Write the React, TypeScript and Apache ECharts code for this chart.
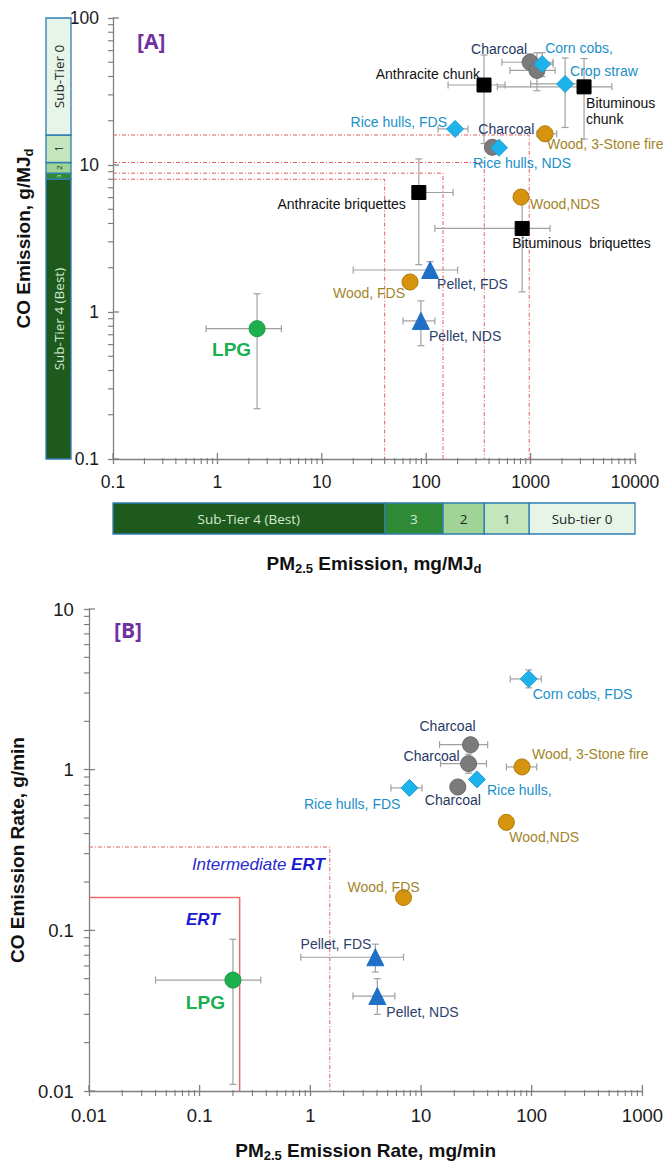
import React, { useEffect, useRef } from "react";
import * as echarts from "echarts";

// ---------------- Panel A: emission factors (mg/MJd, g/MJd) ----------------
const namesA = ["Anthracite chunk", "Bituminous chunk", "Anthracite briquettes", "Bituminous briquettes", "Charcoal 1", "Charcoal 2", "Charcoal 3", "Corn cobs", "Crop straw", "Rice hulls, FDS", "Rice hulls, NDS", "Wood, 3-Stone fire", "Wood, NDS", "Wood, FDS", "Pellet, FDS", "Pellet, NDS", "LPG"];
const labelsA = ["Anthracite chunk", "Bituminous\nchunk", "Anthracite briquettes", "Bituminous  briquettes", "Charcoal", "", "Charcoal", "Corn cobs,", "Crop straw", "Rice hulls, FDS", "Rice hulls, NDS", "Wood, 3-Stone fire", "Wood,NDS", "Wood, FDS", "Pellet, FDS", "Pellet, NDS", "LPG"];
const fuelA = ["coal", "coal", "coal", "coal", "charcoal", "charcoal", "charcoal", "crop", "crop", "crop", "crop", "wood", "wood", "wood", "pellet", "pellet", "lpg"];
const pmA = [358, 3250, 85, 830, 990, 1150, 430, 1290, 2140, 189, 498, 1375, 810, 70, 109, 89, 2.4];
const coA = [35, 34, 6.5, 3.7, 50, 44, 13.2, 48.6, 35.6, 17.6, 13.1, 16.3, 6.05, 1.6, 1.93, 0.87, 0.77];
const pmLoA = [162, 480, 80, 121, 532, 635, null, 1000, 1000, 130, null, 1150, null, null, 20, 60, 0.78];
const pmHiA = [569, 6000, 181, 1535, 1640, 1714, null, 1640, 3500, 251, null, 1780, null, null, 200, 121, 4.1];
const coLoA = [14, 15, 2.1, 1.37, 44, 32, null, 40, 18, null, null, null, null, null, 1.7, 0.59, 0.22];
const coHiA = [56, 53, 11, 6, 57, 58, null, 58, 53.5, null, null, null, null, null, 2.2, 1.19, 1.33];

// IWA sub-tier thresholds
const pmTiers = [40, 145, 360, 970];
const coTiers = [8, 8.8, 10.4, 16];
const tierNamesX = ["Sub-Tier 4 (Best)", "3", "2", "1", "Sub-tier 0"];
const tierNamesY = ["Sub-Tier 4 (Best)", "3", "2", "1", "Sub-Tier 0"];
const pmTierEdges = [0.1, 40, 145, 360, 970, 10000];
const coTierEdges = [0.1, 8, 8.8, 10.4, 16, 100];

// ---------------- Panel B: emission rates (mg/min, g/min) ----------------
const namesB = ["Corn cobs, FDS", "Charcoal 1", "Charcoal 2", "Charcoal 3", "Rice hulls, NDS", "Rice hulls, FDS", "Wood, 3-Stone fire", "Wood, NDS", "Wood, FDS", "Pellet, FDS", "Pellet, NDS", "LPG"];
const labelsB = ["Corn cobs, FDS", "Charcoal", "Charcoal", "Charcoal", "Rice hulls,", "Rice hulls, FDS", "Wood, 3-Stone fire", "Wood,NDS", "Wood, FDS", "Pellet, FDS", "Pellet, NDS", "LPG"];
const fuelB = ["crop", "charcoal", "charcoal", "charcoal", "crop", "crop", "wood", "wood", "wood", "pellet", "pellet", "lpg"];
const pmB = [94, 28, 26.9, 21.5, 32, 7.85, 81.7, 59, 6.95, 3.87, 4.03, 0.2];
const coB = [3.67, 1.43, 1.09, 0.78, 0.87, 0.77, 1.04, 0.47, 0.16, 0.068, 0.039, 0.049];
const pmLoB = [64, 14.7, 15, null, null, 5.35, 59, null, null, 0.82, 2.43, 0.04];
const pmHiB = [122, 40, 39, null, null, 10.2, 111, null, null, 6.95, 5.8, 0.357];
const coLoB = [3.23, null, 0.95, null, null, null, null, null, null, 0.055, 0.03, 0.011];
const coHiB = [4.18, null, 1.25, null, null, null, null, null, null, 0.082, 0.05, 0.088];

// ERT thresholds
const ertPm = [0.23, 1.5];
const ertCo = [0.16, 0.33];

const xTicksA = [0.1, 1, 10, 100, 1000, 10000];
const yTicksA = [0.1, 1, 10, 100];
const xTicksB = [0.01, 0.1, 1, 10, 100, 1000];
const yTicksB = [0.01, 0.1, 1, 10];

// ---------------- layout / style (not data) ----------------
const FONT = 'Arial, "Liberation Sans", sans-serif';
const labelLayoutA: any[] = [[-4, -11, "right"], [2, 24, "left"], [-13, 11, "right"], [-10, 15, "left"], [-3, -13, "right"], null, [-14, -18, "left"], [3, -16, "left"], [5, -13, "left"], [-8, -7, "right"], [-26, 15, "left"], [2, 10, "left"], [9, 7, "left"], [-5, 11, "right"], [7, 14, "left"], [8, 15, "left"], [-6, 21, "right"]];
const labelLayoutB: any[] = [[4, 15, "left"], [-23, -19, "center"], [-9, -8, "right"], [-33, 13, "left"], [10, 11, "left"], [-9, 16, "right"], [10, -13, "left"], [3, 15, "left"], [-20, -11, "center"], [-4, -13, "right"], [9, 16, "left"], [-8, 22, "right"]];

const styles: any = {
  coal: { symbol: "rect", size: 14, color: "#000000", border: "#000000", label: "#111111" },
  charcoal: { symbol: "circle", size: 16, color: "#7b7b7d", border: "#6a6a6a", label: "#1f3864" },
  crop: { symbol: "diamond", size: 17, color: "#1eb2ea", border: "#1a9fd6", label: "#1a8fc9" },
  wood: { symbol: "circle", size: 16, color: "#d6930e", border: "#b07a0c", label: "#a3852a" },
  pellet: { symbol: "triangle", size: 17, color: "#1f6fc7", border: "#1f6fc7", label: "#2c416b" },
  lpg: { symbol: "circle", size: 16, color: "#1eb04e", border: "#179a42", label: "#19b04f" },
};
const tierFill = ["#1e5a1e", "#2e8a34", "#9fd496", "#c4e6bd", "#e6f5e8"];
const tierText = ["#d2ead0", "#d2ead0", "#222", "#222", "#222"];
const AXIS = "#808080";

function fmt(v: number) {
  return String(parseFloat(Number(v).toPrecision(4)));
}

function minorValues(min: number, max: number) {
  const out: number[] = [];
  for (let d = min; d < max * 0.999; d *= 10) for (let k = 2; k <= 9; k++) out.push(parseFloat((d * k).toPrecision(3)));
  return out;
}

function logAxis(gridIndex: number, min: number, max: number, isX: boolean, labelFont: number, labelMargin: number, ticks: number[], name: string, nameGap: number) {
  return {
    type: "log",
    logBase: 10,
    gridIndex,
    min,
    max,
    position: isX ? "bottom" : "left",
    splitLine: { show: false },
    axisLine: { show: true, lineStyle: { color: AXIS, width: 1.3 } },
    axisTick: { show: true, length: 5, customValues: ticks, lineStyle: { color: AXIS, width: 1.3 } },
    axisLabel: { show: true, customValues: ticks, margin: labelMargin, color: "#1a1a1a", fontSize: labelFont, fontFamily: FONT, formatter: (v: number) => fmt(v) },
    name,
    nameLocation: "middle",
    nameGap,
    nameRotate: isX ? 0 : 90,
    nameTextStyle: {
      rich: {
        b: { fontSize: 19, fontWeight: "bold", fontFamily: FONT, color: "#111", lineHeight: 24 },
        s: { fontSize: 13, fontWeight: "bold", fontFamily: FONT, color: "#111", lineHeight: 13, verticalAlign: "bottom" },
      },
    },
  };
}

function scatterSeries(names: string[], labels: string[], fuels: string[], xs: number[], ys: number[], layout: any[], xi: number, yi: number, fontSize: number) {
  const order = ["coal", "charcoal", "crop", "wood", "pellet", "lpg"];
  return order
    .map((f) => {
      const st = styles[f];
      const data: any[] = [];
      fuels.forEach((fu, i) => {
        if (fu !== f) return;
        const lay = layout[i];
        data.push({
          name: names[i],
          value: [xs[i], ys[i]],
          label: lay
            ? {
                show: true,
                formatter: labels[i],
                position: "inside",
                offset: [lay[0], lay[1]],
                align: lay[2],
                verticalAlign: "middle",
                color: st.label,
                fontSize: f === "lpg" ? 19 : fontSize,
                fontWeight: f === "lpg" ? "bold" : "normal",
                fontFamily: FONT,
                lineHeight: 16,
                textBorderWidth: 0,
              }
            : { show: false },
        });
      });
      return {
        type: "scatter",
        name: f,
        xAxisIndex: xi,
        yAxisIndex: yi,
        symbol: st.symbol,
        symbolSize: st.size,
        itemStyle: { color: st.color, borderColor: st.border, borderWidth: 1, opacity: 1 },
        emphasis: { disabled: true },
        data,
        z: 5,
      };
    })
    .filter((s) => s.data.length);
}

function errorSeries(xs: number[], ys: number[], xl: any[], xh: any[], yl: any[], yh: any[], xi: number, yi: number) {
  const data = xs.map((x, i) => [x, ys[i], xl[i] ?? NaN, xh[i] ?? NaN, yl[i] ?? NaN, yh[i] ?? NaN]);
  return {
    type: "custom",
    xAxisIndex: xi,
    yAxisIndex: yi,
    z: 3,
    encode: { x: 0, y: 1 },
    data,
    renderItem: (params: any, api: any) => {
      const x = api.value(0), y = api.value(1);
      const a = api.value(2), b = api.value(3), c = api.value(4), d = api.value(5);
      const children: any[] = [];
      const st = { stroke: "#a0a0a0", lineWidth: 1.2 };
      const cap = 3.5;
      if (isFinite(a) && isFinite(b) && a > 0 && b > 0) {
        const p1 = api.coord([a, y]), p2 = api.coord([b, y]);
        children.push({ type: "line", shape: { x1: p1[0], y1: p1[1], x2: p2[0], y2: p2[1] }, style: st });
        children.push({ type: "line", shape: { x1: p1[0], y1: p1[1] - cap, x2: p1[0], y2: p1[1] + cap }, style: st });
        children.push({ type: "line", shape: { x1: p2[0], y1: p2[1] - cap, x2: p2[0], y2: p2[1] + cap }, style: st });
      }
      if (isFinite(c) && isFinite(d) && c > 0 && d > 0) {
        const p1 = api.coord([x, c]), p2 = api.coord([x, d]);
        children.push({ type: "line", shape: { x1: p1[0], y1: p1[1], x2: p2[0], y2: p2[1] }, style: st });
        children.push({ type: "line", shape: { x1: p1[0] - cap, y1: p1[1], x2: p1[0] + cap, y2: p1[1] }, style: st });
        children.push({ type: "line", shape: { x1: p2[0] - cap, y1: p2[1], x2: p2[0] + cap, y2: p2[1] }, style: st });
      }
      return { type: "group", children };
    },
  };
}

// minor ticks + inner half of major ticks, placed through the axis scales
function tickDetailSeries(xi: number, yi: number, xmin: number, xmax: number, ymin: number, ymax: number, xMajor: number[], yMajor: number[]) {
  const xMinor = minorValues(xmin, xmax);
  const yMinor = minorValues(ymin, ymax);
  return {
    type: "custom",
    xAxisIndex: xi,
    yAxisIndex: yi,
    z: 4,
    silent: true,
    encode: { x: 0, y: 1 },
    data: [[xmin, ymin]],
    renderItem: (params: any, api: any) => {
      const children: any[] = [];
      const stMinor = { stroke: "#7a7a7a", lineWidth: 1.1 };
      const stMajor = { stroke: AXIS, lineWidth: 1.3 };
      xMinor.forEach((v) => {
        const p = api.coord([v, ymin]);
        children.push({ type: "line", shape: { x1: p[0], y1: p[1] - 1, x2: p[0], y2: p[1] + 5 }, style: stMinor });
      });
      xMajor.forEach((v) => {
        const p = api.coord([v, ymin]);
        children.push({ type: "line", shape: { x1: p[0], y1: p[1] - 6, x2: p[0], y2: p[1] }, style: stMajor });
      });
      yMinor.forEach((v) => {
        const p = api.coord([xmin, v]);
        children.push({ type: "line", shape: { x1: p[0] - 5, y1: p[1], x2: p[0] + 1, y2: p[1] }, style: stMinor });
      });
      yMajor.forEach((v) => {
        const p = api.coord([xmin, v]);
        children.push({ type: "line", shape: { x1: p[0], y1: p[1], x2: p[0] + 6, y2: p[1] }, style: stMajor });
      });
      return { type: "group", children };
    },
  };
}

export default function App() {
  const ref = useRef<HTMLDivElement>(null);
  useEffect(() => {
    if (!ref.current) return;
    const chart = echarts.init(ref.current, null, { renderer: "svg" });

    const hiddenValue = (gridIndex: number, pos: string) => ({ type: "value", gridIndex, min: 0, max: 1, position: pos, show: false });
    const hiddenLog = (gridIndex: number, min: number, max: number, pos: string) => ({ type: "log", logBase: 10, gridIndex, min, max, position: pos, show: false });

    const xAxis = [
      logAxis(0, 0.1, 10000, true, 17.5, 14, xTicksA, "{b|PM}{s|2.5}{b| Emission, mg/MJ}{s|d}", 92),
      hiddenValue(1, "bottom"),
      hiddenLog(2, 0.1, 10000, "bottom"),
      logAxis(3, 0.01, 1000, true, 18.5, 15, xTicksB, "{b|PM}{s|2.5}{b| Emission Rate, mg/min}", 47),
    ];
    const yAxis = [
      logAxis(0, 0.1, 100, false, 17.5, 14, yTicksA, "{b|CO Emission, g/MJ}{s|d}", 78),
      hiddenLog(1, 0.1, 100, "left"),
      hiddenValue(2, "left"),
      logAxis(3, 0.01, 10, false, 18.5, 15, yTicksB, "{b|CO Emission Rate, g/min}", 48),
    ];

    const tierYData = tierNamesY.map((_, i) => [coTierEdges[i], coTierEdges[i + 1]]);
    const tierXData = tierNamesX.map((_, i) => [pmTierEdges[i], pmTierEdges[i + 1]]);

    const option: any = {
      animation: false,
      backgroundColor: "#ffffff",
      grid: [
        { left: 113, top: 18, width: 522, height: 441 },
        { left: 46, top: 18, width: 25, height: 441 },
        { left: 113, top: 503, width: 522, height: 31 },
        { left: 77, top: 609, width: 568, height: 482 },
      ],
      xAxis,
      yAxis,
      graphic: [
        { type: "text", left: 137, top: 30, style: { text: "[A]", fill: "#7030a0", font: 'bold 21px "Open Sans", Arial, sans-serif' } },
        { type: "text", left: 114, top: 619, style: { text: "[B]", fill: "#7030a0", font: 'bold 21px "Open Sans", Arial, sans-serif' } },
      ],
      series: [
        // sub-tier bar along the CO axis
        {
          type: "custom",
          xAxisIndex: 1,
          yAxisIndex: 1,
          encode: { x: 0, y: 1 },
          data: tierYData,
          renderItem: (params: any, api: any) => {
            const lo = api.value(0), hi = api.value(1);
            const a = api.coord([0, hi]), b = api.coord([1, lo]);
            const i = params.dataIndex;
            const h = b[1] - a[1];
            const fs = h > 60 ? 13.5 : h > 20 ? 10 : h > 8 ? 8 : 6;
            return {
              type: "group",
              children: [
                { type: "rect", shape: { x: a[0], y: a[1], width: b[0] - a[0], height: h }, style: { fill: tierFill[i], stroke: "#2f7db3", lineWidth: 1.3 } },
                { type: "text", x: (a[0] + b[0]) / 2, y: (a[1] + b[1]) / 2, rotation: Math.PI / 2, style: { text: tierNamesY[i], align: "center", verticalAlign: "middle", fill: tierText[i], font: `${fs}px "Open Sans", "Noto Sans", sans-serif` } },
              ],
            };
          },
        },
        // sub-tier bar along the PM axis
        {
          type: "custom",
          xAxisIndex: 2,
          yAxisIndex: 2,
          encode: { x: 0, y: 1 },
          data: tierXData,
          renderItem: (params: any, api: any) => {
            const lo = api.value(0), hi = api.value(1);
            const a = api.coord([lo, 1]), b = api.coord([hi, 0]);
            const i = params.dataIndex;
            return {
              type: "group",
              children: [
                { type: "rect", shape: { x: a[0], y: a[1], width: b[0] - a[0], height: b[1] - a[1] }, style: { fill: tierFill[i], stroke: "#2f7db3", lineWidth: 1.3 } },
                { type: "text", x: (a[0] + b[0]) / 2, y: (a[1] + b[1]) / 2, style: { text: tierNamesX[i], align: "center", verticalAlign: "middle", fill: tierText[i], font: `13.5px "Open Sans", "Noto Sans", sans-serif` } },
              ],
            };
          },
        },
        // tier threshold lines in A
        {
          type: "custom",
          xAxisIndex: 0,
          yAxisIndex: 0,
          encode: { x: 0, y: 1 },
          z: 1,
          data: pmTiers.map((p, i) => [p, coTiers[i]]),
          renderItem: (params: any, api: any) => {
            const x = api.value(0), y = api.value(1);
            const p0 = api.coord([0.1, y]), p1 = api.coord([x, y]), p2 = api.coord([x, 0.1]);
            return { type: "polyline", shape: { points: [p0, p1, p2] }, style: { stroke: "#e0605e", lineWidth: 1, lineDash: [4, 2, 1, 2], fill: null } };
          },
        },
        tickDetailSeries(0, 0, 0.1, 10000, 0.1, 100, xTicksA, yTicksA),
        errorSeries(pmA, coA, pmLoA, pmHiA, coLoA, coHiA, 0, 0),
        ...scatterSeries(namesA, labelsA, fuelA, pmA, coA, labelLayoutA, 0, 0, 14),
        // ERT boxes in B
        {
          type: "custom",
          xAxisIndex: 3,
          yAxisIndex: 3,
          encode: { x: 0, y: 1 },
          z: 1,
          data: ertPm.map((p, i) => [p, ertCo[i]]),
          renderItem: (params: any, api: any) => {
            const x = api.value(0), y = api.value(1);
            const p0 = api.coord([0.01, y]), p1 = api.coord([x, y]), p2 = api.coord([x, 0.01]);
            const inter = params.dataIndex === 1;
            return {
              type: "group",
              children: [
                { type: "polyline", shape: { points: [p0, p1, p2] }, style: { stroke: inter ? "#e0605e" : "#ee6a6a", lineWidth: inter ? 1 : 1.5, lineDash: inter ? [4, 2, 1, 2] : null, fill: null } },
                {
                  type: "text",
                  x: p1[0] - (inter ? 5 : 20),
                  y: p1[1] + (inter ? 17 : 22),
                  style: {
                    text: inter ? "{i|Intermediate }{b|ERT}" : "{b|ERT}",
                    align: "right",
                    verticalAlign: "middle",
                    rich: {
                      i: { fill: "#2a2ad0", font: `italic 17px ${FONT}` },
                      b: { fill: "#1a1ad0", font: `italic bold 17px ${FONT}` },
                    },
                  },
                },
              ],
            };
          },
        },
        tickDetailSeries(3, 3, 0.01, 1000, 0.01, 10, xTicksB, yTicksB),
        errorSeries(pmB, coB, pmLoB, pmHiB, coLoB, coHiB, 3, 3),
        ...scatterSeries(namesB, labelsB, fuelB, pmB, coB, labelLayoutB, 3, 3, 14),
      ],
    };
    chart.setOption(option);
    return () => chart.dispose();
  }, []);
  return <div ref={ref} style={{ position: "absolute", left: 0, top: 0, width: 666, height: 1163 }} />;
}
